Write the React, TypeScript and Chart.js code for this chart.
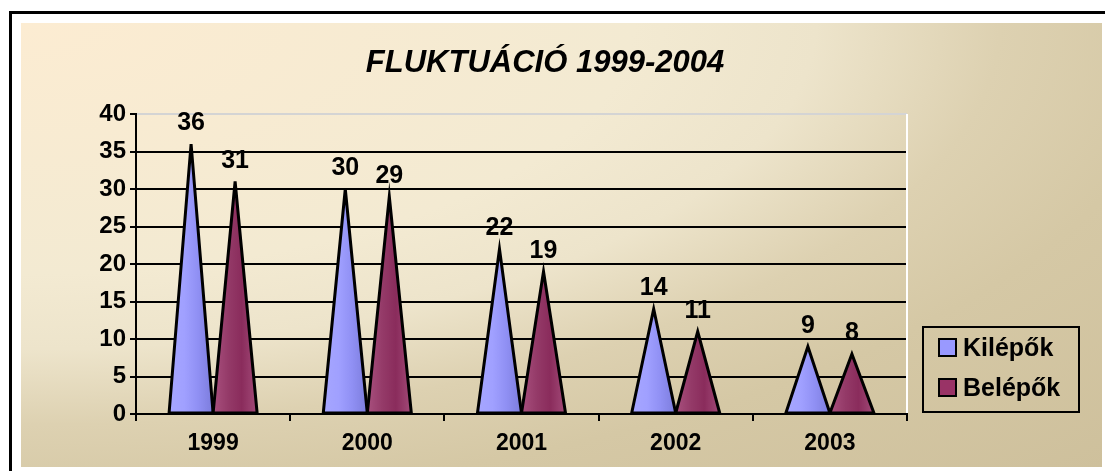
import React, { useEffect, useRef } from 'react';
import { Chart, registerables } from 'chart.js';

Chart.register(...registerables);

const titleText = 'FLUKTUÁCIÓ 1999-2004';
const categories = ['1999', '2000', '2001', '2002', '2003'];
const seriesNames = ['Kilépők', 'Belépők'];
const kilepok = [36, 30, 22, 14, 9];
const belepok = [31, 29, 19, 11, 8];
const yMin = 0;
const yMax = 40;
const yStep = 5;

const FONT = 'Arial, "Liberation Sans", sans-serif';
const swatchColors = ['#9999FF', '#993366'];
const gradStops = [
  [[0, '#A6A6FF'], [0.35, '#A0A0FF'], [0.65, '#9090F4'], [1, '#7C7CDC']],
  [[0, '#A8507E'], [0.35, '#943A68'], [0.65, '#8A2C5C'], [1, '#A24A78']],
];

const conePlugin = {
  id: 'cones',
  beforeDatasetsDraw(chart: any) {
    const { ctx, chartArea } = chart;
    ctx.save();
    ctx.strokeStyle = '#FFFFFF';
    ctx.lineWidth = 2;
    ctx.beginPath();
    ctx.moveTo(chartArea.right, chartArea.top);
    ctx.lineTo(chartArea.right, chartArea.bottom - 1);
    ctx.stroke();
    ctx.restore();
  },
  afterDatasetsDraw(chart: any) {
    const { ctx } = chart;
    ctx.save();
    chart.data.datasets.forEach((ds: any, di: number) => {
      const meta = chart.getDatasetMeta(di);
      meta.data.forEach((el: any) => {
        const { x, y, base, width } = el.getProps(['x', 'y', 'base', 'width'], true);
        const l = x - width / 2;
        const r = x + width / 2;
        const g = ctx.createLinearGradient(l, 0, r, 0);
        gradStops[di].forEach((s: any) => g.addColorStop(s[0], s[1]));
        ctx.beginPath();
        ctx.moveTo(l, base);
        ctx.lineTo(x, y);
        ctx.lineTo(r, base);
        ctx.closePath();
        ctx.fillStyle = g;
        ctx.fill();
        ctx.lineWidth = 3;
        ctx.lineJoin = 'miter';
        ctx.strokeStyle = '#000';
        ctx.stroke();
      });
    });
    ctx.fillStyle = '#000';
    ctx.font = `bold 25px ${FONT}`;
    ctx.textAlign = 'center';
    ctx.textBaseline = 'alphabetic';
    chart.data.datasets.forEach((ds: any, di: number) => {
      const meta = chart.getDatasetMeta(di);
      meta.data.forEach((el: any, i: number) => {
        const { x, y } = el.getProps(['x', 'y'], true);
        ctx.fillText(String(ds.data[i]), x, y - 14);
      });
    });
    ctx.restore();
  },
  afterDraw(chart: any) {
    const { ctx } = chart;
    ctx.save();
    ctx.fillStyle = '#000';
    ctx.font = `italic bold 31px ${FONT}`;
    ctx.textAlign = 'center';
    ctx.textBaseline = 'middle';
    ctx.fillText(titleText, 524, 40);
    ctx.lineWidth = 2;
    ctx.strokeStyle = '#000';
    ctx.strokeRect(902, 304, 156, 85);
    ctx.font = `bold 25px ${FONT}`;
    ctx.textAlign = 'left';
    seriesNames.forEach((name, i) => {
      const yy = 316 + i * 40;
      ctx.fillStyle = swatchColors[i];
      ctx.fillRect(918, yy, 17, 17);
      ctx.strokeRect(918, yy, 17, 17);
      ctx.fillStyle = '#000';
      ctx.fillText(name, 942, yy + 10);
    });
    ctx.restore();
  },
};

export default function App() {
  const ref = useRef<HTMLCanvasElement | null>(null);
  useEffect(() => {
    if (!ref.current) return;
    const chart = new Chart(ref.current, {
      type: 'bar',
      data: {
        labels: categories,
        datasets: [
          { label: seriesNames[0], data: kilepok, backgroundColor: 'rgba(0,0,0,0)', borderWidth: 0 },
          { label: seriesNames[1], data: belepok, backgroundColor: 'rgba(0,0,0,0)', borderWidth: 0 },
        ],
      },
      options: {
        animation: false,
        responsive: false,
        maintainAspectRatio: false,
        events: [],
        layout: { padding: { left: 0, top: 91, right: 195, bottom: 0 } },
        datasets: { bar: { categoryPercentage: 0.571, barPercentage: 1.0 } },
        plugins: {
          legend: { display: false },
          title: { display: false },
          tooltip: { enabled: false },
        },
        scales: {
          x: {
            type: 'category',
            offset: true,
            grid: {
              offset: true,
              drawOnChartArea: false,
              drawTicks: true,
              tickLength: 7,
              color: '#000',
              lineWidth: 2,
            },
            border: { display: true, color: '#000', width: 2 },
            ticks: { color: '#000', font: { family: FONT, size: 23, weight: 'bold' }, padding: 9 },
            afterFit: (s: any) => { s.height = 53; },
          },
          y: {
            min: yMin,
            max: yMax,
            ticks: {
              stepSize: yStep,
              color: '#000',
              font: { family: FONT, size: 24, weight: 'bold' },
              padding: 4,
            },
            grid: {
              color: (c: any) => (c.tick && c.tick.value === yMax ? '#D4D4D4' : '#000'),
              tickColor: '#000',
              lineWidth: 2,
              tickLength: 6,
            },
            border: { display: true, color: '#000', width: 2 },
            afterFit: (s: any) => { s.width = 115; },
          },
        },
      },
      plugins: [conePlugin],
    });
    return () => chart.destroy();
  }, []);

  return (
    <div style={{ position: 'absolute', left: 0, top: 0, width: 1105, height: 471, overflow: 'hidden', background: '#fff' }}>
      <div style={{ position: 'absolute', left: 9, top: 11, width: 1200, height: 600, border: '3px solid #000', background: '#fff' }} />
      <canvas
        ref={ref}
        width={1081}
        height={444}
        style={{
          position: 'absolute',
          left: 21,
          top: 23,
          width: 1081,
          height: 444,
          background:
            'radial-gradient(farthest-corner at 0% 0%, #FCECD2 0%, #F3EAD2 40%, #EDE4CB 52%, #DDD1B1 64%, #D5C8A5 76%, #CEC09C 100%)',
        }}
      />
    </div>
  );
}
